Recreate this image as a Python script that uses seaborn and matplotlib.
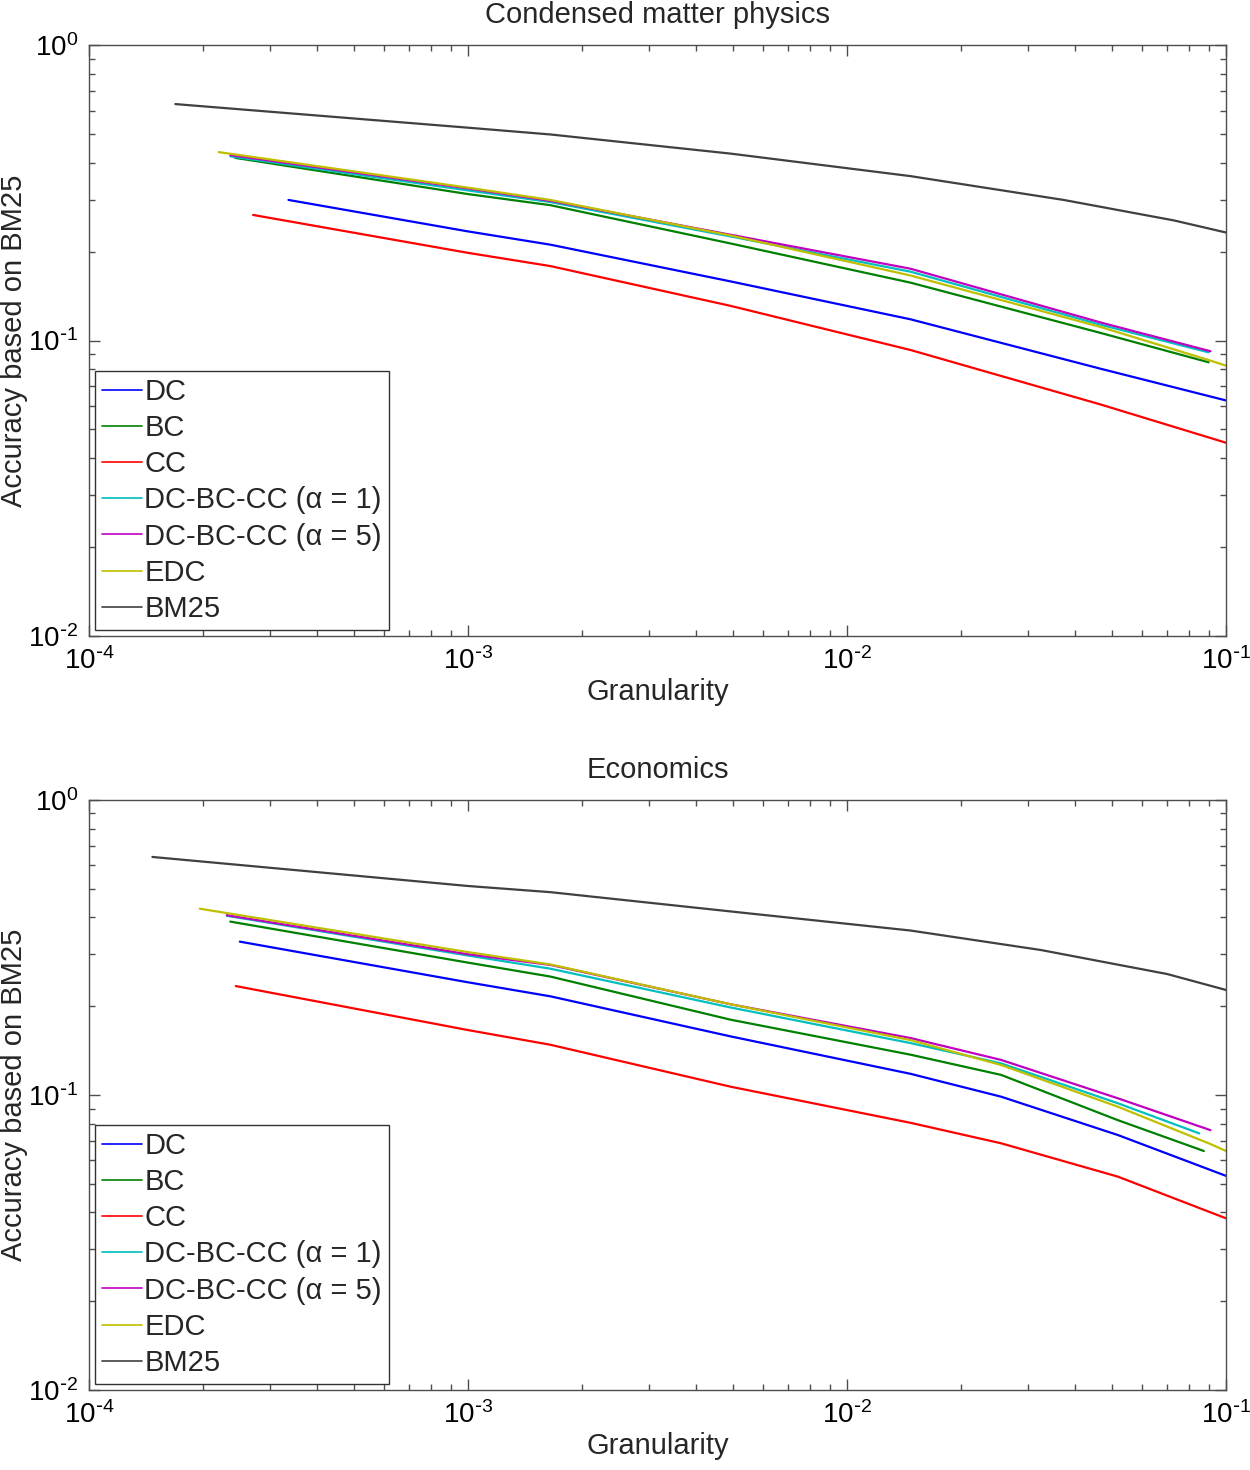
import numpy as np
import pandas as pd
import matplotlib
matplotlib.use('Agg')
import matplotlib.pyplot as plt
import seaborn as sns
from matplotlib.ticker import LogLocator, NullFormatter, FuncFormatter

# series names and colours (MATLAB classic order)
names = ['DC', 'BC', 'CC', 'DC-BC-CC (α = 1)', 'DC-BC-CC (α = 5)', 'EDC', 'BM25']
colors = ['#0000ff', '#008000', '#ff0000', '#00bfbf', '#bf00bf', '#bfbf00', '#404040']

# ---- Condensed matter physics ----
cmp_dc_x = [3.36e-4, 1e-3, 1.65e-3, 4.93e-3, 1.47e-2, 4.68e-2, 1e-1]
cmp_dc_y = [0.299, 0.234, 0.211, 0.1585, 0.118, 0.0802, 0.0627]
cmp_bc_x = [2.43e-4, 1e-3, 1.65e-3, 4.93e-3, 1.47e-2, 4.68e-2, 9e-2]
cmp_bc_y = [0.415, 0.313, 0.287, 0.213, 0.157, 0.106, 0.0844]
cmp_cc_x = [2.71e-4, 1e-3, 1.65e-3, 4.93e-3, 1.47e-2, 4.68e-2, 1e-1]
cmp_cc_y = [0.266, 0.198, 0.1786, 0.131, 0.0929, 0.0607, 0.0451]
cmp_a1_x = [2.36e-4, 1e-3, 1.65e-3, 4.93e-3, 1.47e-2, 4.68e-2, 9e-2]
cmp_a1_y = [0.420, 0.322, 0.294, 0.225, 0.171, 0.113, 0.0912]
cmp_a5_x = [2.36e-4, 1e-3, 1.65e-3, 4.93e-3, 1.47e-2, 4.68e-2, 9.1e-2]
cmp_a5_y = [0.424, 0.327, 0.297, 0.228, 0.175, 0.115, 0.092]
cmp_edc_x = [2.2e-4, 1e-3, 1.65e-3, 4.93e-3, 1.47e-2, 4.68e-2, 9e-2, 1e-1]
cmp_edc_y = [0.434, 0.329, 0.299, 0.2267, 0.166, 0.111, 0.0859, 0.0822]
cmp_bm_x = [1.69e-4, 1e-3, 1.65e-3, 4.93e-3, 1.47e-2, 3.73e-2, 7.28e-2, 1e-1]
cmp_bm_y = [0.631, 0.525, 0.498, 0.429, 0.360, 0.299, 0.255, 0.232]

# ---- Economics ----
eco_dc_x = [2.5e-4, 1e-3, 1.65e-3, 4.93e-3, 1.47e-2, 2.55e-2, 5.18e-2, 1e-1]
eco_dc_y = [0.331, 0.241, 0.216, 0.158, 0.118, 0.0987, 0.0732, 0.0532]
eco_bc_x = [2.36e-4, 1e-3, 1.65e-3, 4.93e-3, 1.47e-2, 2.55e-2, 5.18e-2, 8.74e-2]
eco_bc_y = [0.387, 0.281, 0.252, 0.180, 0.137, 0.117, 0.0822, 0.0646]
eco_cc_x = [2.44e-4, 1e-3, 1.65e-3, 4.93e-3, 1.47e-2, 2.55e-2, 5.18e-2, 1e-1]
eco_cc_y = [0.234, 0.166, 0.148, 0.1067, 0.0805, 0.0686, 0.0529, 0.0382]
eco_a1_x = [2.31e-4, 1e-3, 1.65e-3, 4.93e-3, 1.47e-2, 2.55e-2, 5.18e-2, 8.5e-2]
eco_a1_y = [0.405, 0.297, 0.268, 0.198, 0.150, 0.128, 0.0938, 0.0741]
eco_a5_x = [2.31e-4, 1e-3, 1.65e-3, 4.93e-3, 1.47e-2, 2.55e-2, 5.18e-2, 9.1e-2]
eco_a5_y = [0.407, 0.300, 0.276, 0.203, 0.156, 0.1315, 0.0975, 0.076]
eco_edc_x = [1.96e-4, 1e-3, 1.65e-3, 4.93e-3, 1.47e-2, 2.55e-2, 5.18e-2, 9e-2, 1e-1]
eco_edc_y = [0.428, 0.305, 0.277, 0.203, 0.1535, 0.1264, 0.0913, 0.0686, 0.0646]
eco_bm_x = [1.47e-4, 1e-3, 1.65e-3, 4.93e-3, 1.47e-2, 3.25e-2, 7.0e-2, 1e-1]
eco_bm_y = [0.641, 0.511, 0.487, 0.419, 0.361, 0.310, 0.257, 0.227]

panels = [
    ('Condensed matter physics',
     [(cmp_dc_x, cmp_dc_y), (cmp_bc_x, cmp_bc_y), (cmp_cc_x, cmp_cc_y), (cmp_a1_x, cmp_a1_y),
      (cmp_a5_x, cmp_a5_y), (cmp_edc_x, cmp_edc_y), (cmp_bm_x, cmp_bm_y)]),
    ('Economics',
     [(eco_dc_x, eco_dc_y), (eco_bc_x, eco_bc_y), (eco_cc_x, eco_cc_y), (eco_a1_x, eco_a1_y),
      (eco_a5_x, eco_a5_y), (eco_edc_x, eco_edc_y), (eco_bm_x, eco_bm_y)]),
]

sns.set_theme(style='white')
plt.rcParams['font.family'] = ['Liberation Sans', 'DejaVu Sans']
plt.rcParams['mathtext.default'] = 'regular'
plt.rcParams['axes.edgecolor'] = '#4d4d4d'
plt.rcParams['axes.linewidth'] = 1.0


def decade_label(v, pos):
    n = int(round(np.log10(v)))
    if n < 0:
        return r'$\mathdefault{10^{\text{-}%d}}$' % (-n)
    return r'$\mathdefault{10^{%d}}$' % n


fig = plt.figure(figsize=(12.5, 14.7), dpi=100)
axes_pos = [[0.0712, 0.5673, 0.9096, 0.4021], [0.0712, 0.0544, 0.9096, 0.4014]]

for (title, series), pos in zip(panels, axes_pos):
    ax = fig.add_axes(pos)
    rows = []
    for name, (xs, ys) in zip(names, series):
        for x, y in zip(xs, ys):
            rows.append({'series': name, 'x': x, 'y': y})
    df = pd.DataFrame(rows)
    sns.lineplot(data=df, x='x', y='y', hue='series', hue_order=names,
                 palette=colors, estimator=None, sort=True, linewidth=1.6, ax=ax)
    ax.set_xscale('log')
    ax.set_yscale('log')
    ax.set_xlim(1e-4, 1e-1)
    ax.set_ylim(1e-2, 1e0)
    ax.xaxis.set_major_locator(LogLocator(base=10, numticks=10))
    ax.yaxis.set_major_locator(LogLocator(base=10, numticks=10))
    ax.xaxis.set_minor_locator(LogLocator(base=10, subs=np.arange(2, 10), numticks=20))
    ax.yaxis.set_minor_locator(LogLocator(base=10, subs=np.arange(2, 10), numticks=20))
    ax.xaxis.set_major_formatter(FuncFormatter(decade_label))
    ax.yaxis.set_major_formatter(FuncFormatter(decade_label))
    ax.xaxis.set_minor_formatter(NullFormatter())
    ax.yaxis.set_minor_formatter(NullFormatter())
    ax.tick_params(which='both', direction='in', top=True, right=True, bottom=True, left=True,
                   color='#4d4d4d', labelsize=20, labelcolor='black')
    ax.tick_params(which='major', length=8, width=1, pad=8)
    ax.tick_params(which='minor', length=4.3, width=1)
    ax.set_title(title, fontsize=21, pad=16)
    ax.set_xlabel('Granularity', fontsize=21, labelpad=2)
    ax.set_ylabel('Accuracy based on BM25', fontsize=21)
    ax.yaxis.set_label_coords(-0.0537, 0.5)
    leg = ax.legend(loc='lower left', fontsize=21, frameon=True, fancybox=False,
                    edgecolor='#333333', framealpha=1, handlelength=1.35,
                    handletextpad=0.1, labelspacing=0.28, borderaxespad=0.2,
                    borderpad=0.25)
    leg.get_frame().set_linewidth(1.0)
    for h in leg.get_lines():
        h.set_linewidth(1.2)

fig.savefig('out.png', dpi=100)
